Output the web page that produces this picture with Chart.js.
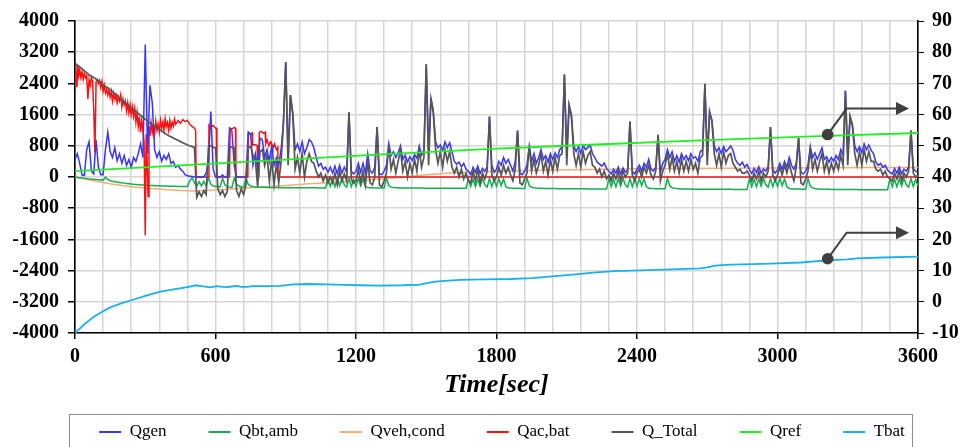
<!DOCTYPE html>
<html>
<head>
<meta charset="utf-8">
<script src="https://cdn.jsdelivr.net/npm/chart.js@4.4.1/dist/chart.umd.min.js"></script>
<style>
  html, body { margin: 0; padding: 0; background: #ffffff; }
  #wrap { width: 966px; height: 447px; }
</style>
</head>
<body>
<div id="wrap"><canvas id="c" width="966" height="447"></canvas></div>
<script>
// Sample spacing of the logged heat-flow series (seconds)
const STEP_S = 10;

// Series names, in legend order
const seriesNames = ['Qgen', 'Qbt,amb', 'Qveh,cond', 'Qac,bat', 'Q_Total', 'Qref', 'Tbat'];

// Qgen [W], one value every 10 s from 0 to 3600 s
const qgen = [
  450, 600, 350, 50, 40, 700, 900, 150, 80, 950,
  250, 60, 60, 700, 1150, 650, 500, 750, 420, 600,
  350, 550, 300, 450, 250, 500, 400, 600, 850, 500,
  3400, 600, 2350, 1900, 700, 500, 650, 400, 550, 450,
  600, 350, 400, 250, 300, 200, 150, 60, 30, 20,
  10, 0, 0, 0, 0, 0, 100, 400, 1680, 200,
  0, 0, 0, 50, 0, 0, 1250, 1180, 300, 0,
  0, 0, 0, 0, 1150, 1100, 300, 600, 200, 1000,
  950, 500, 700, 400, 800, 300, 500, 300, 700, 1400,
  2950, 500, 2100, 1650, 700, 850, 650, 900, 600, 750,
  960, 900, 750, 500, 280, 350, 200, 250, 120, 250,
  100, 280, 80, 300, 100, 250, 120, 1660, 150, 80,
  150, 350, 120, 350, 100, 600, 150, 100, 250, 1280,
  80, 60, 150, 300, 860, 550, 650, 500, 620, 800,
  450, 560, 380, 520, 420, 580, 480, 790, 560, 700,
  2890, 700, 2020, 1700, 900, 750, 820, 680, 900, 750,
  880, 640, 400, 330, 380, 260, 350, 200, 150, 60,
  250, 120, 280, 90, 220, 150, 260, 1550, 300, 120,
  200, 400, 300, 500, 350, 450, 300, 150, 400, 1190,
  100, 60, 150, 300, 800, 400, 600, 350, 500, 700,
  450, 550, 380, 600, 450, 620, 500, 700, 780, 2630,
  650, 1840, 1590, 800, 650, 780, 600, 820, 700, 760,
  820, 600, 500, 380, 330, 280, 360, 220, 150, 80,
  200, 100, 250, 80, 230, 120, 180, 1420, 150, 80,
  200, 300, 150, 350, 250, 450, 200, 150, 250, 1080,
  120, 350, 450, 700, 500, 650, 400, 550, 380, 600,
  450, 550, 420, 600, 480, 520, 400, 650, 700, 2390,
  600, 1670, 1460, 800, 650, 750, 600, 780, 650, 720,
  800, 680, 450, 350, 300, 380, 250, 320, 180, 90,
  220, 120, 260, 100, 200, 150, 250, 1280, 200, 100,
  180, 350, 200, 400, 250, 500, 300, 200, 350, 1000,
  120, 80, 150, 300, 780, 500, 620, 450, 600, 750,
  450, 520, 380, 500, 400, 550, 450, 700, 560, 2210,
  600, 1550, 1340, 800, 650, 780, 620, 850, 700, 820,
  680, 600, 380, 300, 350, 250, 300, 180, 120, 80,
  220, 100, 250, 80, 200, 150, 260, 1190, 220, 150,
  120
];

// Q_Total [W], one value every 10 s
const qtotal = [
  2920, 2870, 2820, 2770, 2720, 2670, 2620, 2580, 2550, 2510,
  2470, 2420, 2370, 2320, 2280, 2240, 2190, 2140, 2090, 2030,
  1980, 1930, 1880, 1830, 1780, 1730, 1680, 1630, 1580, 1530,
  1480, 1440, 1390, 1340, 1300, 1260, 1220, 1180, 1140, 1100,
  1060, 1030, 1000, 970, 940, 910, 880, 850, 820, 800,
  780, 760, -520, -380, -500, -350, -450, 780, 800, 760,
  750, -300, -450, -350, -500, -380, 750, 770, 740, -350,
  -500, -300, -450, -200, 750, 780, 550, 450, -250, 650,
  700, 300, 550, -100, 450, -200, 350, -150, 400, 1350,
  2950, 300, 2100, 1600, 200, 500, 100, 600, 0, 400,
  600, 400, 350, 150, 0, 100, -100, 50, -150, 0,
  -150, 100, -200, 150, -100, 80, -100, 1660, -50, -150,
  -100, 200, -150, 150, -200, 400, -150, -200, 0, 1280,
  -200, -250, -100, 100, 800, 200, 450, 100, 400, 700,
  150, 400, 0, 350, 100, 450, 150, 700, 250, 500,
  2890, 300, 2020, 1650, 700, 350, 650, 250, 700, 400,
  650, 250, 100, 250, 0, 200, -50, 100, -100, -150,
  150, -100, 200, -150, 100, -50, 150, 1550, 50, -100,
  0, 250, 50, 300, 100, 250, 50, -100, 200, 1190,
  -150, -200, -50, 100, 780, 150, 450, 100, 300, 600,
  150, 400, 50, 450, 150, 500, 200, 550, 600, 2630,
  300, 1840, 1550, 600, 300, 600, 250, 650, 350, 550,
  650, 300, 250, 100, 200, 0, 150, -50, 50, -100,
  100, -50, 150, -100, 150, 0, 100, 1420, 50, -100,
  100, 200, 0, 250, 100, 300, 50, -50, 150, 1080,
  -100, 150, 300, 600, 200, 500, 150, 400, 100, 450,
  150, 400, 150, 450, 200, 350, 100, 500, 550, 2390,
  300, 1670, 1420, 600, 300, 600, 250, 650, 350, 550,
  600, 350, 250, 150, 200, 100, 100, 150, 50, -100,
  100, -50, 150, -100, 100, 0, 150, 1280, 50, -100,
  50, 250, 50, 300, 100, 350, 100, -100, 250, 1000,
  -150, -200, -50, 150, 700, 200, 450, 150, 400, 600,
  150, 400, 100, 350, 150, 400, 200, 550, 300, 2210,
  300, 1550, 1300, 600, 300, 650, 300, 700, 400, 650,
  400, 400, 200, 150, 200, 50, 150, 0, -50, -100,
  100, -50, 150, -100, 100, 0, 150, 1190, 100, 0,
  50
];

// Qbt,amb [W], one value every 10 s
const qbtAmb = [
  0, -10, -20, -28, -35, -40, -48, -55, -60, -65,
  -70, -75, -80, -5, -60, -95, -110, -120, -130, -140,
  -150, -157, -165, -172, -178, -185, -190, -196, -200, -205,
  -210, -213, -216, -219, -222, -225, -227, -229, -231, -233,
  -235, -237, -238, -240, -241, -243, -244, -245, -246, -100,
  -20, -150, -240, -120, -230, -110, -230, -20, -180, -230,
  -240, -250, -250, -30, -200, -240, -260, -270, -30, -180,
  -230, -250, -260, -30, -190, -230, -245, -255, -260, -262,
  -264, -266, -268, -270, -270, -271, -272, -272, -273, -273,
  -274, -274, -275, -275, -275, -276, -276, -276, -277, -277,
  -277, -278, -278, -278, -279, -279, -279, -280, -40, -240,
  -60, -250, -50, -230, -30, -200, -260, -40, -250, -60,
  -240, -40, -220, -50, -250, -270, -275, -278, -280, -280,
  -282, -282, -283, -30, -220, -260, -270, -275, -278, -280,
  -281, -282, -283, -283, -284, -284, -285, -285, -285, -286,
  -286, -286, -287, -287, -287, -288, -288, -288, -288, -289,
  -289, -289, -289, -290, -290, -290, -290, -290, -40, -240,
  -60, -250, -50, -230, -30, -200, -260, -40, -250, -60,
  -240, -40, -220, -50, -250, -280, -285, -288, -290, -290,
  -291, -292, -292, -30, -220, -265, -275, -282, -287, -290,
  -292, -294, -295, -296, -297, -298, -299, -300, -300, -301,
  -301, -302, -302, -303, -303, -303, -304, -304, -304, -305,
  -305, -305, -305, -306, -306, -306, -306, -306, -40, -250,
  -60, -250, -50, -230, -30, -200, -260, -40, -250, -60,
  -240, -40, -220, -50, -250, -290, -295, -298, -300, -300,
  -301, -302, -303, -30, -230, -275, -290, -298, -302, -305,
  -307, -308, -309, -310, -311, -312, -312, -313, -313, -314,
  -314, -315, -315, -315, -316, -316, -316, -317, -317, -317,
  -317, -318, -318, -318, -318, -318, -319, -319, -40, -250,
  -60, -250, -50, -230, -30, -200, -260, -40, -250, -60,
  -240, -40, -220, -50, -250, -295, -300, -305, -308, -310,
  -312, -313, -314, -30, -230, -280, -295, -305, -310, -313,
  -315, -316, -317, -318, -319, -320, -320, -321, -321, -322,
  -322, -322, -323, -323, -323, -324, -324, -324, -324, -325,
  -325, -325, -325, -325, -326, -326, -326, -326, -40, -250,
  -60, -250, -50, -230, -30, -200, -260, -40, -250, -60,
  -240
];

// Qveh,cond [W] as [time s, value]
const qvehCond = [
  [0, 0], [50, -60], [100, -120], [150, -175], [200, -220], [250, -255],
  [300, -285], [350, -310], [400, -330], [450, -348], [510, -362], [600, -335],
  [700, -295], [800, -255], [900, -215], [1000, -175], [1100, -140], [1200, -105],
  [1300, -50], [1400, 0], [1500, 55], [1600, 100], [1700, 130], [1800, 150],
  [2000, 175], [2200, 195], [2400, 210], [2600, 220], [2800, 226], [3000, 232],
  [3200, 237], [3400, 242], [3600, 246]
];

// Qac,bat [W] as [time s, value]
const qacBat = [
  [0, 2880], [4, 2700], [8, 2300], [12, 2850], [16, 2600], [20, 2750], [25, 2550],
  [30, 2700], [35, 2500], [40, 2650], [45, 2550], [50, 2600], [55, 2000], [60, 2500],
  [65, 2350], [70, 2550], [75, 2450], [80, 1700], [85, 620], [90, 2450], [95, 2500],
  [100, 2400], [105, 2480], [110, 2300], [115, 2450], [120, 2200], [125, 2350],
  [130, 2150], [135, 2250], [140, 2100], [145, 2230], [150, 2050], [155, 2200],
  [160, 1950], [165, 2150], [170, 2000], [175, 2100], [180, 1900], [185, 2050],
  [190, 1950], [195, 2100], [200, 1800], [205, 2000], [210, 1850], [215, 1950],
  [220, 1700], [225, 1900], [230, 1650], [235, 1850], [240, 1600], [245, 1800],
  [250, 1550], [255, 1750], [260, 1400], [265, 1650], [270, 1300], [275, 1550],
  [280, 1150], [285, 1450], [290, 1200], [295, 900], [300, -1500], [304, 1100],
  [308, 400], [312, -500], [316, 1300], [320, 1050], [325, 1400], [330, 1150],
  [335, 1350], [340, 1100], [345, 1430], [350, 1200], [355, 1350], [360, 1150],
  [365, 1450], [370, 1250], [375, 1400], [380, 1200], [385, 1500], [390, 1300],
  [395, 1400], [400, 1200], [405, 1450], [410, 1250], [415, 1400], [420, 1300],
  [425, 1480], [430, 1350], [440, 1450], [450, 1380], [460, 1470], [470, 1420],
  [480, 1450], [490, 1350], [500, 1300], [510, 1250], [515, 1200], [517, 0],
  [570, 0], [572, 1330], [580, 1280], [590, 1320], [600, 1250], [604, 1250], [606, 0],
  [660, 0], [662, 1250], [670, 1230], [680, 1270], [685, 1250], [687, 0],
  [738, 0], [740, 1120], [748, 1100], [756, 1130], [758, 820], [770, 830], [778, 810], [780, 0],
  [785, 0], [787, 1150], [795, 1170], [805, 1120], [812, 1150], [814, 850], [820, 950],
  [828, 800], [835, 900], [842, 820], [845, 750], [852, 850], [860, 700], [866, 760],
  [868, 0], [3600, 0]
];

// Qref, read on the right-hand axis, as [time s, value]
const qref = [
  [0, 41.9], [450, 43.7], [900, 45.6], [1350, 47.4], [1800, 49.1],
  [2250, 50.5], [2700, 51.8], [3150, 53.0], [3600, 54.1]
];

// Tbat [°C], right-hand axis, as [time s, value]
const tbat = [
  [0, -10], [40, -7.2], [80, -4.8], [120, -3.0], [150, -1.8], [200, -0.4], [240, 0.5],
  [300, 1.9], [360, 3.2], [420, 4.0], [480, 4.7], [517, 5.3], [540, 5.0], [577, 4.6],
  [605, 5.0], [630, 4.8], [648, 4.7], [670, 4.9], [690, 5.1], [710, 4.8], [733, 4.8],
  [760, 5.0], [790, 5.0], [830, 5.0], [875, 5.1], [932, 5.6], [1000, 5.7], [1075, 5.6],
  [1150, 5.4], [1217, 5.3], [1300, 5.2], [1400, 5.3], [1473, 5.5], [1530, 6.4],
  [1580, 6.7], [1644, 7.0], [1750, 7.2], [1857, 7.3], [1950, 7.6], [2050, 8.2],
  [2150, 8.9], [2200, 9.3], [2300, 9.8], [2413, 10.1], [2550, 10.4], [2670, 10.7],
  [2700, 11.0], [2733, 11.6], [2800, 11.9], [2900, 12.1], [3000, 12.3], [3100, 12.6],
  [3210, 13.3], [3300, 13.6], [3340, 13.9], [3450, 14.2], [3600, 14.5]
];

// Callout markers pointing to the right-hand axis: [time s, right-axis value]
const calloutAnchors = [[3214, 53.6], [3214, 13.8]];

// Axis tick settings
const xTickStep = 120, xLabelStep = 600;
const leftTicks = { min: -4000, max: 4000, step: 800 };
const rightTicks = { min: -10, max: 90, step: 10 };

const SERIF = "'Liberation Serif', 'Times New Roman', 'DejaVu Serif', serif";

const sampled = arr => arr.map((v, i) => ({ x: i * STEP_S, y: v }));
const paired = arr => arr.map(p => ({ x: p[0], y: p[1] }));

function line(label, data, color, axis, order, width) {
  return {
    label, data, borderColor: color, backgroundColor: color,
    borderWidth: width || 1.5, pointRadius: 0, pointHoverRadius: 0,
    pointStyle: 'line', tension: 0, yAxisID: axis, order
  };
}

const datasets = [
  line(seriesNames[0], sampled(qgen), '#3535ff', 'y', 3),
  line(seriesNames[1], sampled(qbtAmb), '#12b04e', 'y', 5),
  line(seriesNames[2], paired(qvehCond), '#f6ad78', 'y', 6),
  line(seriesNames[3], paired(qacBat), '#ff1010', 'y', 4),
  line(seriesNames[4], sampled(qtotal), '#555555', 'y', 2, 1.7),
  line(seriesNames[5], paired(qref), '#22ee22', 'y1', 1, 1.8),
  line(seriesNames[6], paired(tbat), '#17b2ee', 'y1', 0, 1.8)
];

// Legend row sits under the plot, shifted right of the page centre
const LEGEND_SHIFT = 38;

// Arrow callouts, legend placement and the frame around the legend
const decorations = {
  id: 'decorations',
  afterLayout(chart) {
    if (chart.legend) chart.legend.left += LEGEND_SHIFT;
  },
  afterDatasetsDraw(chart) {
    const { ctx, chartArea } = chart;
    const xs = chart.scales.x, yr = chart.scales.y1;
    ctx.save();
    ctx.strokeStyle = '#3f3f3f';
    ctx.fillStyle = '#3f3f3f';
    ctx.lineWidth = 2;
    calloutAnchors.forEach(([t, v]) => {
      const px = xs.getPixelForValue(t), py = yr.getPixelForValue(v);
      const ey = py - 26, tip = chartArea.right - 9, base = tip - 13;
      ctx.beginPath();
      ctx.moveTo(px, py);
      ctx.lineTo(px + 19, ey);
      ctx.lineTo(base, ey);
      ctx.stroke();
      ctx.beginPath();
      ctx.moveTo(base, ey - 6.5);
      ctx.lineTo(tip, ey);
      ctx.lineTo(base, ey + 6.5);
      ctx.closePath();
      ctx.fill();
      ctx.beginPath();
      ctx.arc(px, py, 5.8, 0, Math.PI * 2);
      ctx.fill();
    });
    ctx.restore();
  },
  afterDraw(chart) {
    const { ctx, chartArea } = chart;
    ctx.save();
    ctx.strokeStyle = '#8c8c8c';
    ctx.lineWidth = 1;
    ctx.strokeRect(chartArea.left - 5.5, chartArea.bottom + 81.5, chartArea.right - chartArea.left, 60);
    ctx.restore();
  }
};

const tickFont = { family: SERIF, size: 20, weight: 'bold' };

new Chart(document.getElementById('c'), {
  type: 'line',
  data: { datasets },
  plugins: [decorations],
  options: {
    responsive: false,
    devicePixelRatio: 1,
    animation: false,
    layout: { padding: { top: 19, left: 0, right: 0, bottom: 0 } },
    plugins: {
      legend: {
        position: 'bottom',
        maxHeight: 65.5,
        labels: {
          usePointStyle: true,
          pointStyleWidth: 22,
          padding: 42,
          color: '#000',
          font: { family: SERIF, size: 17 },
          sort: (a, b) => a.datasetIndex - b.datasetIndex,
          generateLabels(chart) {
            const items = Chart.defaults.plugins.legend.labels.generateLabels(chart);
            items.forEach(it => { it.lineWidth = 2; });
            return items;
          }
        }
      },
      tooltip: { enabled: false }
    },
    scales: {
      x: {
        type: 'linear',
        min: 0, max: 3600,
        afterFit(s) { s.height = 48.5; },
        ticks: {
          stepSize: xTickStep,
          autoSkip: false,
          maxRotation: 0,
          padding: 6,
          color: '#000',
          font: tickFont,
          callback: v => (v % xLabelStep === 0 ? String(v) : '')
        },
        grid: {
          color: '#d6d6d6',
          lineWidth: 1.5,
          tickLength: 6,
          tickColor: c => (c.tick && c.tick.value % xLabelStep === 0 ? '#000' : 'rgba(0,0,0,0)')
        },
        border: { color: '#000', width: 1.6 },
        title: {
          display: true,
          text: 'Time[sec]',
          color: '#000',
          font: { family: SERIF, size: 26, weight: 'bold', style: 'italic' },
          padding: { top: 0, bottom: -19 }
        }
      },
      y: {
        position: 'left',
        min: leftTicks.min, max: leftTicks.max,
        afterFit(s) { s.width = 75; },
        ticks: {
          stepSize: leftTicks.step,
          padding: 9,
          color: '#000',
          font: tickFont,
          callback: v => String(v)
        },
        grid: { color: '#d6d6d6', lineWidth: 1.5, tickLength: 7, tickColor: '#000' },
        border: { color: '#000', width: 1.6 }
      },
      y1: {
        position: 'right',
        min: rightTicks.min, max: rightTicks.max,
        afterFit(s) { s.width = 48; },
        ticks: {
          stepSize: rightTicks.step,
          padding: 8,
          color: '#000',
          font: tickFont,
          callback: v => String(v)
        },
        grid: { drawOnChartArea: false, tickLength: 6, tickColor: '#000' },
        border: { color: '#000', width: 1.6 }
      }
    }
  }
});
</script>
</body>
</html>
